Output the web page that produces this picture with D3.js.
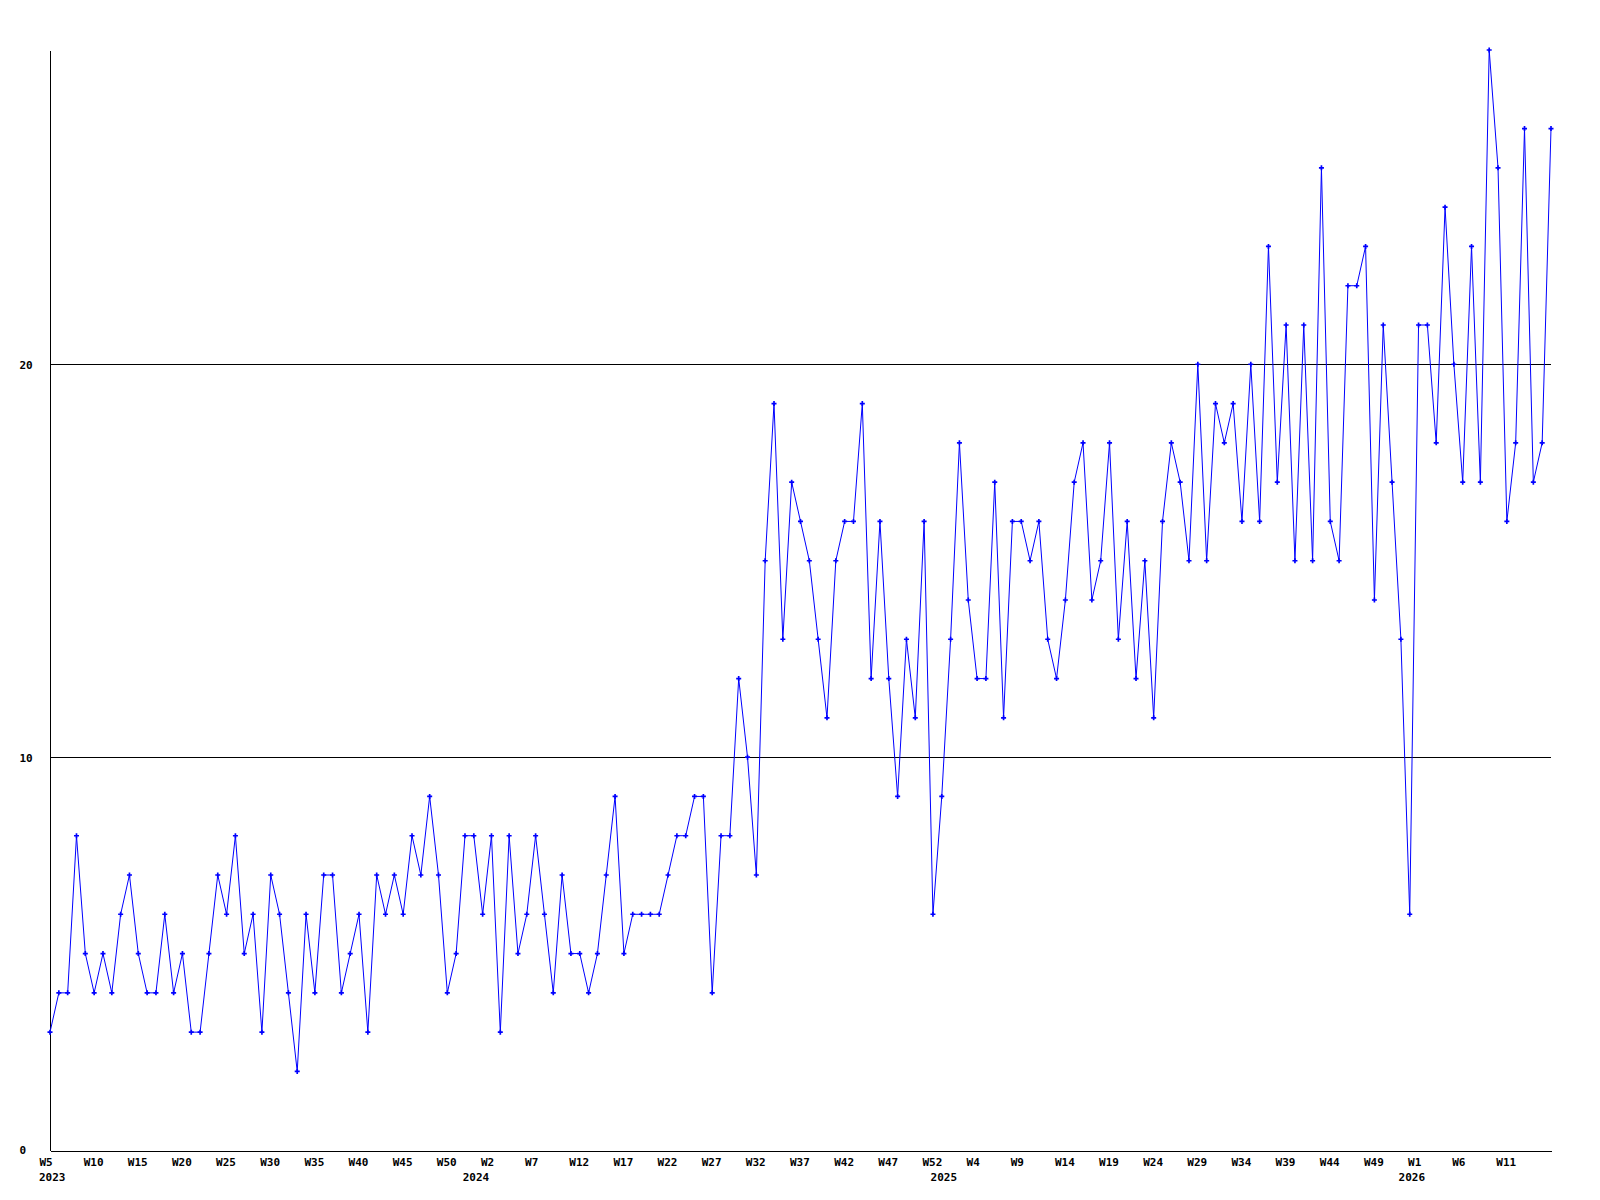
<!DOCTYPE html>
<html>
<head>
<meta charset="utf-8">
<script src="https://cdn.jsdelivr.net/npm/d3@7"></script>
<style>
  html, body { margin: 0; padding: 0; background: #fff; }
  svg { display: block; }
  text { font-family: "DejaVu Sans Mono", "Liberation Mono", monospace; font-weight: bold; font-size: 11px; fill: #000; }
</style>
</head>
<body>
<svg id="chart" width="1600" height="1200"></svg>
<script>
// ---- data ----
const years = [2023, 2024, 2025, 2026];
const firstWeek = [5, 1, 1, 1];
const lastWeek = [53, 53, 53, 16];

const values = [
  3,4,4,8,5,4,5,4,6,7,5,4,4,6,4,5,3,3,5,7,6,8,5,6,3,7,6,4,2,6,4,7,7,4,5,6,3,7,6,7,6,8,7,9,7,
  4,5,8,8,6,8,3,8,5,6,8,6,4,7,5,5,4,5,7,9,5,6,6,6,6,7,8,8,9,9,4,8,8,
  12,10,7,15,19,13,17,16,15,13,11,15,16,16,19,12,16,12,9,13,11,16,6,9,13,18,14,12,12,
  17,11,16,16,15,16,13,12,14,17,18,14,15,18,13,16,12,15,11,16,18,17,15,20,15,19,18,19,16,
  20,16,23,17,21,15,21,15,25,16,15,22,22,23,14,
  21,17,13,6,21,21,18,24,20,17,23,17,28,25,16,18,26,17,18,26
];

const tickLabels = ["W5","W10","W15","W20","W25","W30","W35","W40","W45","W50",
  "W2","W7","W12","W17","W22","W27","W32","W37","W42","W47","W52",
  "W4","W9","W14","W19","W24","W29","W34","W39","W44","W49",
  "W1","W6","W11"];
const yTicks = [0, 10, 20];
const yMax = 28;

// build categories from year/week ranges
const categories = [];
years.forEach((yr, i) => {
  for (let w = firstWeek[i]; w <= lastWeek[i]; w++) categories.push(yr + "-W" + w);
});
const data = categories.map((c, i) => ({ cat: c, v: values[i] }));

// ---- layout ----
const svg = d3.select("#chart");
const mLeft = 50, mRight = 1551, mTop = 50, mBottom = 1150;

const x = d3.scalePoint().domain(categories).range([mLeft, mRight]);
const y = d3.scaleLinear().domain([0, yMax]).range([mBottom, mTop]);

// gridlines
svg.append("g").selectAll("line")
  .data(yTicks.filter(t => t > 0))
  .join("line")
  .attr("x1", mLeft).attr("x2", mRight)
  .attr("y1", d => Math.round(y(d)) + 0.5).attr("y2", d => Math.round(y(d)) + 0.5)
  .attr("stroke", "#000").attr("stroke-width", 1).attr("shape-rendering", "crispEdges");

// x axis
const tickCats = categories.filter((c, i) => i % 5 === 0);
const tickMap = new Map(tickCats.map((c, i) => [c, tickLabels[i]]));
const xAxis = svg.append("g")
  .attr("transform", `translate(0,${mBottom + 0.5})`)
  .call(d3.axisBottom(x).tickValues(tickCats).tickFormat(c => tickMap.get(c)).tickSize(0).tickPadding(0));
xAxis.select(".domain").attr("stroke", "#000").attr("shape-rendering", "crispEdges");
xAxis.selectAll("text")
  .attr("text-anchor", "start")
  .attr("font-family", null).attr("font-size", null)
  .attr("dx", -11).attr("y", 15).attr("dy", 0);

// year labels
const yearPos = years.map((yr, i) => {
  const c = yr + "-W" + firstWeek[i];
  return { yr, px: i === 0 ? x(c) - 11 : x(c) - 20 };
});
svg.append("g").selectAll("text")
  .data(yearPos)
  .join("text")
  .attr("x", d => d.px)
  .attr("y", mBottom + 31)
  .text(d => d.yr);

// y axis
const yAxis = svg.append("g")
  .attr("transform", `translate(${mLeft - 0.5},0)`)
  .call(d3.axisLeft(y).tickValues(yTicks).tickSize(0).tickPadding(0));
yAxis.select(".domain").attr("stroke", "#000").attr("shape-rendering", "crispEdges");
yAxis.selectAll("text")
  .attr("text-anchor", "start")
  .attr("font-family", null).attr("font-size", null)
  .attr("x", 20 - mLeft).attr("dy", "0.35em");

// line
const line = d3.line().x(d => x(d.cat)).y(d => y(d.v));
svg.append("path")
  .datum(data)
  .attr("d", line)
  .attr("fill", "none")
  .attr("stroke", "#0000ff")
  .attr("stroke-width", 1);

// markers
svg.append("g").selectAll("path")
  .data(data)
  .join("path")
  .attr("transform", d => `translate(${x(d.cat)},${y(d.v)})`)
  .attr("d", d3.symbol(d3.symbolCross, 14))
  .attr("fill", "#0000ff");
</script>
</body>
</html>
